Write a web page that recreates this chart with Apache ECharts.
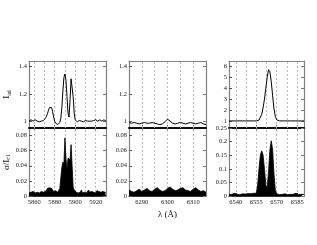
<!DOCTYPE html>
<html>
<head>
<meta charset="utf-8">
<script src="https://cdn.jsdelivr.net/npm/echarts@6/dist/echarts.min.js"></script>
<style>html,body{margin:0;padding:0;background:#fff}#c{width:317px;height:245px}</style>
</head>
<body>
<div id="c"></div>
<script>
// ---- Data (wavelength sampling: start + i*step Å) ----
const naStart = 5855, naStep = 1;
const naIntensity = [1.00,1.005,1.01,1.005,1.00,1.005,1.01,1.005,1.00,1.00,
  0.995,1.00,1.00,1.00,1.005,1.01,1.02,1.035,1.055,1.08,
  1.10,1.11,1.10,1.07,1.03,1.00,0.985,0.975,0.975,0.98,
  0.99,1.02,1.10,1.22,1.32,1.345,1.30,1.18,1.06,1.03,
  1.16,1.31,1.30,1.18,1.06,1.01,1.00,0.995,1.00,1.005,
  0.995,1.00,1.00,0.995,1.00,1.005,0.995,1.00,1.005,1.00,
  0.995,1.00,1.01,1.005,1.00,1.01,1.005,1.00,1.005,1.01,
  1.005,1.00,1.005,1.01,1.005,1.00];
const naSigma = [0.004,0.006,0.005,0.004,0.006,0.005,0.004,0.006,0.005,0.007,
  0.004,0.005,0.006,0.004,0.005,0.007,0.006,0.008,0.010,0.009,
  0.011,0.012,0.010,0.008,0.006,0.005,0.007,0.006,0.005,0.007,
  0.010,0.012,0.038,0.045,0.042,0.077,0.050,0.035,0.050,0.052,
  0.048,0.068,0.040,0.012,0.008,0.006,0.005,0.007,0.004,0.006,
  0.005,0.008,0.004,0.006,0.005,0.007,0.004,0.006,0.008,0.005,
  0.004,0.006,0.007,0.005,0.006,0.004,0.007,0.005,0.006,0.008,
  0.005,0.004,0.006,0.007,0.005,0.004];
const oiStart = 6285, oiStep = 1;
const oiIntensity = [0.99,0.985,0.99,0.985,0.98,0.985,0.99,0.985,0.985,0.99,
  0.985,0.98,0.975,0.98,0.995,1.015,1.0,0.985,0.98,0.985,
  0.99,0.985,0.98,0.985,0.99,0.985,0.98,0.985,0.99,0.98,0.975];
const oiSigma = [0.008,0.006,0.005,0.007,0.009,0.006,0.008,0.010,0.007,0.006,
  0.009,0.011,0.008,0.006,0.007,0.010,0.012,0.009,0.007,0.008,
  0.010,0.011,0.008,0.007,0.006,0.009,0.011,0.008,0.006,0.007,0.005];
const haStart = 6535, haStep = 1;
const haIntensity = [1.0,1.0,1.0,1.0,1.0,1.0,1.0,1.0,1.0,1.0,
  1.0,1.0,1.0,1.0,1.0,1.0,1.0,1.0,1.0,1.0,
  1.0,1.02,1.08,1.25,1.6,2.2,3.0,4.0,5.0,5.7,
  5.5,4.6,3.3,2.1,1.4,1.1,1.03,1.0,1.0,1.0,
  1.0,1.0,1.0,1.0,1.0,1.0,1.0,1.0,1.0,1.0,
  1.0,1.0,1.0,1.0,1.0,1.0];
const haSigma = [0.005,0.008,0.006,0.007,0.010,0.008,0.006,0.007,0.005,0.006,
  0.008,0.006,0.007,0.005,0.009,0.006,0.008,0.007,0.010,0.008,
  0.010,0.040,0.100,0.150,0.166,0.150,0.100,0.040,0.030,0.090,
  0.170,0.203,0.170,0.080,0.020,0.008,0.006,0.005,0.007,0.006,
  0.005,0.008,0.006,0.005,0.007,0.006,0.005,0.006,0.008,0.010,
  0.006,0.005,0.007,0.006,0.005,0.006];

// ---- Axis ticks / ranges ----
const naRange = [5855, 5930], oiRange = [6285, 6315], haRange = [6535, 6590];
const naXTicks = [5860, 5880, 5900, 5920];
const oiXTicks = [6290, 6300, 6310];
const haXTicks = [6540, 6555, 6570, 6585];
const naGridLines = [5860, 5870, 5880, 5890, 5900, 5910, 5920];
const oiGridLines = [6290, 6295, 6300, 6305, 6310];
const haGridLines = [6540, 6547.5, 6555, 6562.5, 6570, 6577.5, 6585];
const upperYRange = [0.95, 1.44], upperYTicks = [1, 1.2, 1.4];
const haUpperYRange = [0.35, 6.5], haUpperYTicks = [1, 2, 3, 4, 5, 6];
const lowerYRange = [0, 0.09], lowerYTicks = [0, 0.02, 0.04, 0.06, 0.08];
const haLowerYRange = [0, 0.25], haLowerYTicks = [0, 0.05, 0.1, 0.15, 0.2, 0.25];

function pairs(start, step, vals) { return vals.map((v, i) => [start + i * step, v]); }

const panels = [
  {left: 29, width: 77, xr: naRange, xt: naXTicks, gl: naGridLines, up: naIntensity, lo: naSigma, st: naStart, sp: naStep, uyr: upperYRange, uyt: upperYTicks, lyr: lowerYRange, lyt: lowerYTicks},
  {left: 129, width: 77, xr: oiRange, xt: oiXTicks, gl: oiGridLines, up: oiIntensity, lo: oiSigma, st: oiStart, sp: oiStep, uyr: upperYRange, uyt: upperYTicks, lyr: lowerYRange, lyt: lowerYTicks},
  {left: 229, width: 75, xr: haRange, xt: haXTicks, gl: haGridLines, up: haIntensity, lo: haSigma, st: haStart, sp: haStep, uyr: haUpperYRange, uyt: haUpperYTicks, lyr: haLowerYRange, lyt: haLowerYTicks}
];

const FONT = 'Liberation Serif';
const frameCol = '#808080';
const grids = [], xAxes = [], yAxes = [], series = [];
const fmt = v => String(+v.toFixed(3));

panels.forEach((p, pi) => {
  [0, 1].forEach(row => {
    const gi = grids.length;
    grids.push({left: p.left, width: p.width, top: row === 0 ? 61 : 128, height: row === 0 ? 67 : 68, containLabel: false});
    const isLower = row === 1;
    const yr = isLower ? p.lyr : p.uyr, yt = isLower ? p.lyt : p.uyt;
    const xi = xAxes.length;
    xAxes.push({type: 'value', gridIndex: gi, min: p.xr[0], max: p.xr[1], position: 'bottom',
      axisLine: {show: true, onZero: false, lineStyle: {color: isLower ? '#333' : '#000', width: isLower ? 1.2 : 1.6}},
      axisTick: {show: true, inside: true, length: 3, customValues: p.xt, lineStyle: {color: '#555'}},
      axisLabel: {show: isLower, customValues: p.xt, formatter: fmt, fontFamily: FONT, fontSize: 6.5, color: '#222', margin: 3},
      splitLine: {show: false},
      name: (isLower && pi === 1) ? 'λ (Å)' : '', nameLocation: 'middle', nameGap: 14,
      nameTextStyle: {fontFamily: FONT, fontSize: 9, color: '#111'}
    });
    xAxes.push({type: 'value', gridIndex: gi, min: p.xr[0], max: p.xr[1], position: 'top',
      axisLine: {show: true, onZero: false, lineStyle: {color: isLower ? '#000' : frameCol, width: isLower ? 1.6 : 1.2}},
      axisTick: {show: true, inside: true, length: 3, customValues: p.xt, lineStyle: {color: '#777'}},
      axisLabel: {show: false}, splitLine: {show: false}});
    const yi = yAxes.length;
    let yname = '';
    if (pi === 0) yname = isLower ? 'σ/I{s|c1}' : 'I{s|ad}';
    yAxes.push({type: 'value', gridIndex: gi, min: yr[0], max: yr[1], position: 'left',
      axisLine: {show: true, onZero: false, lineStyle: {color: frameCol, width: 1.2}},
      axisTick: {show: true, inside: true, length: 3, customValues: yt, lineStyle: {color: '#555'}},
      axisLabel: {show: true, customValues: yt, formatter: fmt, fontFamily: FONT, fontSize: 6.5, color: '#222', margin: 2},
      splitLine: {show: false},
      name: yname, nameLocation: 'middle', nameGap: 17,
      nameTextStyle: {fontFamily: FONT, fontSize: 9, color: '#111', rich: {s: {fontFamily: FONT, fontSize: 6, color: '#111', padding: [4, 0, 0, 0]}}}
    });
    yAxes.push({type: 'value', gridIndex: gi, min: yr[0], max: yr[1], position: 'right',
      axisLine: {show: true, onZero: false, lineStyle: {color: frameCol, width: 1.2}},
      axisTick: {show: true, inside: true, length: 3, customValues: yt, lineStyle: {color: '#777'}},
      axisLabel: {show: false}, splitLine: {show: false}});

    const s = {type: 'line', xAxisIndex: xi, yAxisIndex: yi, symbol: 'none', z: 3,
      data: pairs(p.st, p.sp, isLower ? p.lo : p.up),
      lineStyle: {color: '#000', width: isLower ? 0.8 : 1},
      markLine: {silent: true, symbol: ['none', 'none'], z: 1, label: {show: false},
        lineStyle: {type: [2, 2], color: '#bbb', width: 1},
        data: p.gl.map(v => ({xAxis: v}))},
      animation: false};
    if (isLower) s.areaStyle = {color: '#000', opacity: 1, origin: 'start'};
    series.push(s);
  });
});

const chart = echarts.init(document.getElementById('c'), null, {renderer: 'canvas'});
chart.setOption({animation: false, backgroundColor: '#fff', grid: grids, xAxis: xAxes, yAxis: yAxes, series: series});
</script>
</body>
</html>
